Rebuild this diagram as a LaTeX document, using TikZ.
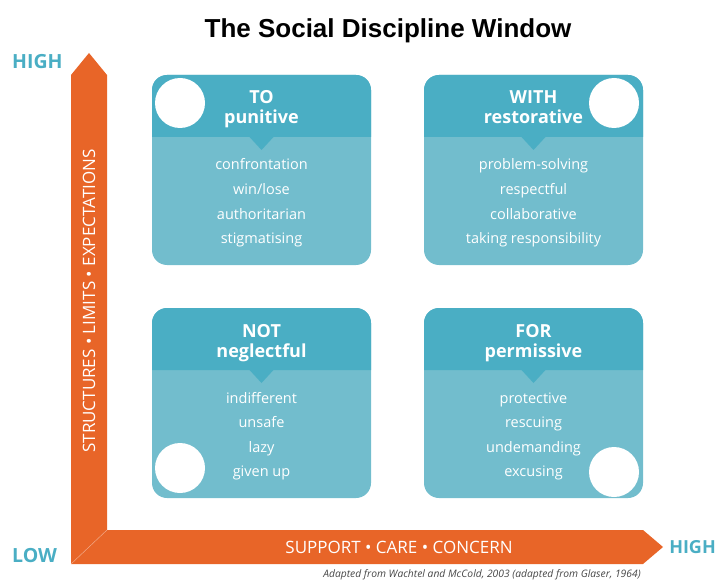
\documentclass[tikz,border=0pt]{standalone}
\usepackage{fontspec}
\setmainfont{Open Sans}
\newfontfamily\titlefont{Liberation Sans}
\definecolor{hdr}{RGB}{74,174,196}
\definecolor{bdy}{RGB}{114,189,205}
\definecolor{org}{RGB}{232,101,40}
\definecolor{lbl}{RGB}{74,174,196}
\definecolor{footc}{RGB}{70,70,70}
\tikzset{
  hd/.style={text=white, font=\fontsize{18}{18}\selectfont\bfseries, inner sep=0pt, anchor=base},
  it/.style={text=white, font=\fontsize{14.5}{14.5}\selectfont, inner sep=0pt, anchor=base},
  axislbl/.style={text=white, font=\fontsize{17}{17}\selectfont, inner sep=0pt},
  endlbl/.style={text=lbl, font=\fontsize{19.5}{19.5}\selectfont\bfseries, inner sep=0pt, anchor=base west},
  hole/.style={fill=white},
}
\newcommand\winbox[6]{%
  \pgfmathsetmacro\bL{#2}%
  \pgfmathsetmacro\bT{#3}%
  \pgfmathsetmacro\bR{#2+219}%
  \pgfmathsetmacro\bB{#3+190}%
  \pgfmathsetmacro\bH{#3+62}%
  \pgfmathsetmacro\bC{#2+109.5}%
  \fill[bdy, rounded corners=15pt] (\bL,\bT) rectangle (\bR,\bB);
  \fill[hdr] (\bL,\bH) [rounded corners=15pt] -- (\bL,\bT) -- (\bR,\bT) [sharp corners] -- (\bR,\bH) -- (\bC+12,\bH) -- (\bC,\bH+13) -- (\bC-12,\bH) -- cycle;
  \node[hd] (#1-h1) at (\bC,\bT+29) {#4};
  \node[hd] (#1-h2) at (\bC,\bT+49) {#5};
  \foreach \t [count=\i] in {#6} {\node[it] (#1-i\i) at (\bC,\bT+70.5+24.5*\i) {\t};}
}
\begin{document}
\begin{tikzpicture}[x=1pt, y=-1pt]
\useasboundingbox (0,0) rectangle (717,580);
% title
\node[font=\titlefont\fontsize{26}{26}\selectfont\bfseries, inner sep=0pt, anchor=base] (title) at (388,38) {The Social Discipline Window};
% axes
\fill[org] (71,564) -- (71,75) -- (89,53) -- (107,75) -- (107,530) -- (643,530) -- (663,547) -- (643,564) -- cycle;
\draw[org!55!white, line width=0.5pt] (71.3,563.7) -- (107,530);
\node[axislbl, rotate=90] (vt) at (89,301) {STRUCTURES • LIMITS • EXPECTATIONS};
\node[axislbl] (ht) at (399,547) {SUPPORT • CARE • CONCERN};
\node[endlbl] (hiy) at (12,69) {HIGH};
\node[endlbl] (low) at (12,562.5) {LOW};
\node[endlbl, font=\fontsize{18}{18}\selectfont\bfseries, anchor=base east] (hix) at (716,553.5) {HIGH};
% boxes
\winbox{to}{152}{75}{TO}{punitive}{confrontation,win/lose,authoritarian,stigmatising}
\winbox{with}{424}{75}{WITH}{restorative}{problem-solving,respectful,collaborative,taking responsibility}
\winbox{not}{152}{308}{NOT}{neglectful}{indifferent,unsafe,lazy,given up}
\winbox{for}{424}{308}{FOR}{permissive}{protective,rescuing,undemanding,excusing}
% circles
\fill[hole] (180,103) circle (25);
\fill[hole] (614,103) circle (25);
\fill[hole] (180,468) circle (25);
\fill[hole] (614,472) circle (25);
% footnote
\node[text=footc, font=\fontsize{10.3}{10.3}\selectfont\itshape, inner sep=0pt, anchor=base] (foot) at (482,577) {Adapted from Wachtel and McCold, 2003 (adapted from Glaser, 1964)};
\end{tikzpicture}
\end{document}
